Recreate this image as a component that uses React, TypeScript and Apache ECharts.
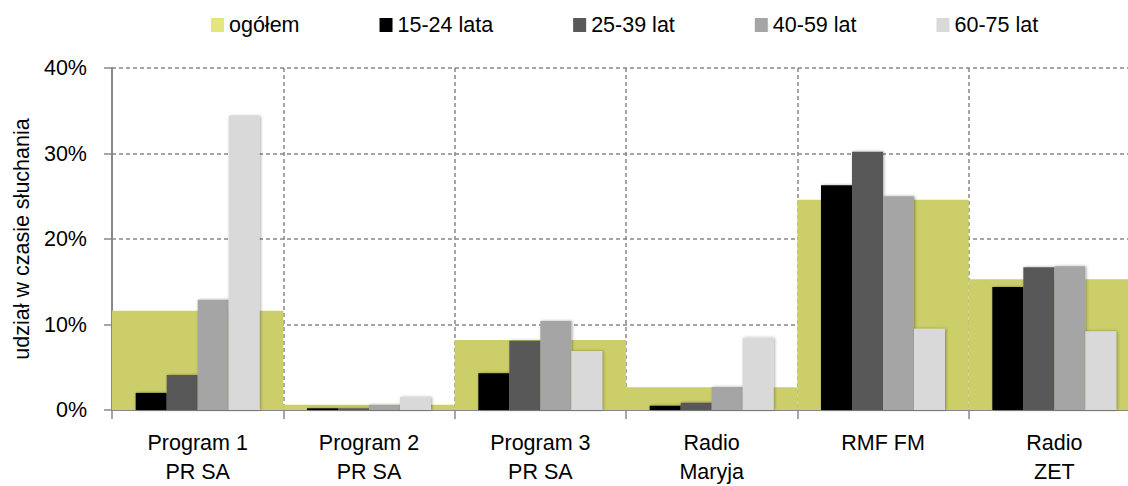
import React, { useEffect, useRef } from "react";
import * as echarts from "echarts";

const categories = ["Program 1\nPR SA", "Program 2\nPR SA", "Program 3\nPR SA", "Radio\nMaryja", "RMF FM", "Radio\nZET"];
const seriesNames = ["ogółem", "15-24 lata", "25-39 lat", "40-59 lat", "60-75 lat"];
const ogolem = [11.6, 0.6, 8.2, 2.65, 24.6, 15.3];
const age1524 = [2.0, 0.2, 4.3, 0.5, 26.3, 14.4];
const age2539 = [4.1, 0.2, 8.1, 0.85, 30.2, 16.7];
const age4059 = [12.9, 0.6, 10.4, 2.7, 25.0, 16.8];
const age6075 = [34.4, 1.5, 6.9, 8.45, 9.5, 9.2];
const yTicks = { min: 0, max: 40, interval: 10 };
const colors = ["#CCCE69", "#000000", "#595959", "#A5A5A5", "#D9D9D9"];

export default function App() {
  const ref = useRef<HTMLDivElement>(null);
  useEffect(() => {
    document.body.style.margin = "0";
    const chart = echarts.init(ref.current!, undefined, { renderer: "svg" });
    const font = "'Liberation Sans', Arial, sans-serif";
    const shadow = { shadowBlur: 3, shadowColor: "rgba(0,0,0,0.35)", shadowOffsetX: 1, shadowOffsetY: 0 };
    const ageData = [age1524, age2539, age4059, age6075];
    chart.setOption({
      animation: false,
      textStyle: { fontFamily: font, color: "#000" },
      legend: {
        top: 9,
        left: 206,
        itemWidth: 13,
        itemHeight: 14,
        itemGap: 80,
        icon: "rect",
        textStyle: { fontSize: 21.5, color: "#000", fontFamily: font },
        data: seriesNames.map((n, i) => ({ name: n, itemStyle: { color: i === 0 ? "#E3E57F" : colors[i] } })),
      },
      grid: { left: 112, right: -12, top: 68, bottom: 76, containLabel: false, outerBoundsMode: "none" },
      xAxis: [
        {
          type: "category",
          data: categories,
          axisLine: { show: true, lineStyle: { color: "#888", width: 2 } },
          axisTick: { show: true, length: 9, lineStyle: { color: "#888", width: 1.5 } },
          splitLine: { show: true, lineStyle: { color: "#888", type: [4, 3], width: 1.5 } },
          axisLabel: { fontSize: 21.5, color: "#000", lineHeight: 29, margin: 18, fontFamily: font, interval: 0 },
        },
        { type: "category", data: categories, show: false },
      ],
      yAxis: {
        type: "value",
        min: yTicks.min,
        max: yTicks.max,
        interval: yTicks.interval,
        name: "udział w czasie słuchania",
        nameLocation: "middle",
        nameGap: 78,
        nameTextStyle: { fontSize: 21.5, color: "#000", fontFamily: font },
        axisLine: { show: true, lineStyle: { color: "#888", width: 2 } },
        axisTick: { show: true, length: 8, lineStyle: { color: "#888", width: 1.5 } },
        splitLine: { show: true, lineStyle: { color: "#888", type: [4, 3], width: 1.5 } },
        axisLabel: { fontSize: 21.5, color: "#000", formatter: "{value}%", margin: 25, fontFamily: font },
      },
      series: [
        {
          name: seriesNames[0],
          type: "bar",
          xAxisIndex: 1,
          barWidth: "100%",
          z: 1,
          data: ogolem,
          itemStyle: { color: colors[0] },
        },
        ...ageData.map((d, i) => ({
          name: seriesNames[i + 1],
          type: "bar",
          xAxisIndex: 0,
          barWidth: 31,
          barGap: "0%",
          z: 3,
          data: d,
          itemStyle: { color: colors[i + 1], ...shadow },
        })),
      ],
    });
    return () => chart.dispose();
  }, []);
  return <div ref={ref} style={{ width: 1128, height: 486 }} />;
}
